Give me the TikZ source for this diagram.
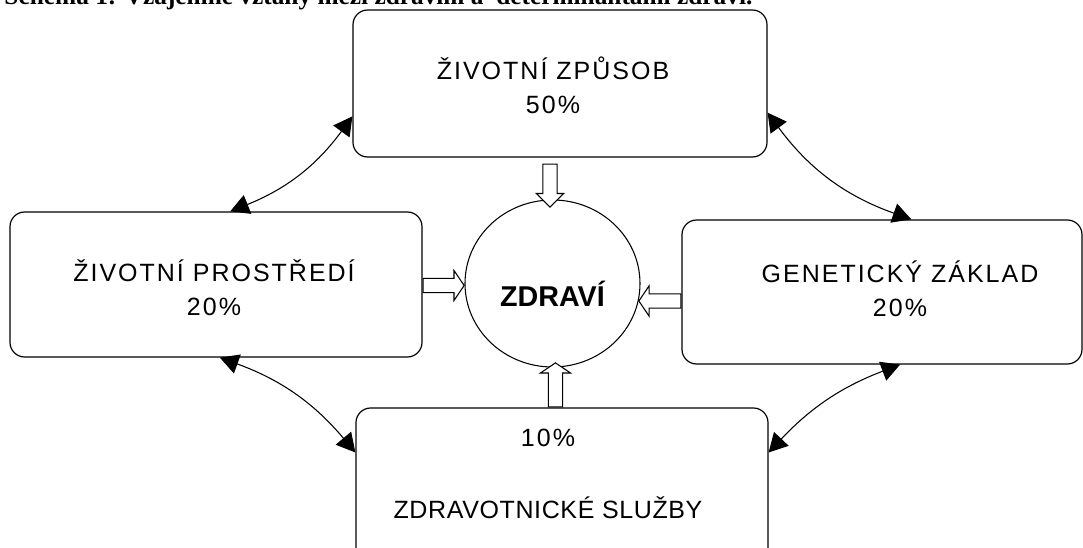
\documentclass[tikz,border=0pt]{standalone}
\usepackage{fontspec}
\setmainfont{Liberation Sans}
\newfontfamily\titlefont{Liberation Serif}
\usetikzlibrary{arrows.meta,shapes.arrows,shapes.geometric}

\tikzset{every picture/.style={line width=0.75pt}}
\tikzset{
  blok/.style={draw, rounded corners=11pt, line width=0.9pt, inner sep=0pt},
  popis/.style={align=center, inner sep=0pt, font=\fontsize{18.75}{25.5}\selectfont\addfontfeature{LetterSpace=8}},
  kruh/.style={draw, ellipse, line width=0.8pt, minimum width=131.25pt, minimum height=125.25pt, inner sep=0pt},
  vazba/.style={line width=0.8pt, {Triangle[length=14pt,width=15pt]}-{Triangle[length=14pt,width=15pt]}},
  sipka/.style={single arrow, draw, fill=white, line width=0.8pt, inner sep=4.9pt, single arrow head extend=4.9pt},
  plocha/.style={single arrow tip angle=112, single arrow head extend=6pt}
}

\begin{document}
\begin{tikzpicture}[x=0.75pt,y=0.75pt,yscale=-1,xscale=1]
\useasboundingbox (0,0) rectangle (1083,548);

% nadpis (oriznuty)
\node[anchor=base west, inner sep=0pt, font=\titlefont\bfseries\fontsize{19}{22}\selectfont] (nadpis) at (4,5) {Schéma 1: Vzájemné vztahy mezi zdravím a\ \ determinantami zdraví.};

% bloky
\node[blok, minimum width=309pt, minimum height=108.75pt] (prostredi) at (216,284.5) {};
\node[blok, minimum width=310.5pt, minimum height=110.25pt] (zpusob) at (560,83.5) {};
\node[blok, minimum width=300pt, minimum height=108pt] (zaklad) at (882,292) {};
\node[blok, minimum width=309pt, minimum height=144pt] (sluzby) at (562,504) {};

% zdravi
\node[kruh] (zdravi) at (552.5,283.5) {};
\node[inner sep=0pt, font=\bfseries\fontsize{21.5}{24}\selectfont] (zdravitext) at ([yshift=7.5pt]zdravi.center) {ZDRAVÍ};

% texty
\node[popis] (tzpusob) at (553,85) {ŽIVOTNÍ ZPŮSOB\\50\%};
\node[popis] (tprostredi) at (214,287.5) {ŽIVOTNÍ PROSTŘEDÍ\\20\%};
\node[popis] (tzaklad) at (900,289) {GENETICKÝ ZÁKLAD\\20\%};
\node[popis] (tsluzby) at (548,474) {10\%\\[29pt]{\addfontfeature{LetterSpace=2.5}ZDRAVOTNICKÉ SLUŽBY}};

% duté šipky
\node[sipka, minimum height=32.25pt, rotate=-90, anchor=tail] (s1) at ([xshift=-7.5pt,yshift=4.5pt]zpusob.south) {};
\node[sipka, plocha, minimum height=33pt, rotate=90, anchor=tail] (s2) at ([xshift=-4.9pt]sluzby.north) {};
\node[sipka, plocha, minimum height=30.75pt, anchor=tail] (s3) at ([yshift=0.75pt]prostredi.east) {};
\node[sipka, plocha, minimum height=31.5pt, rotate=180, anchor=tail] (s4) at ([yshift=6.75pt]zaklad.west) {};

% oboustranne vazby
\draw[vazba] (zpusob.189) to[bend right=16] (prostredi.79);
\draw[vazba] (zpusob.352) to[bend left=17] (zaklad.68);
\draw[vazba] (prostredi.273) to[bend right=15] (sluzby.166);
\draw[vazba] (sluzby.14) to[bend right=13] (zaklad.284);

\end{tikzpicture}
\end{document}
